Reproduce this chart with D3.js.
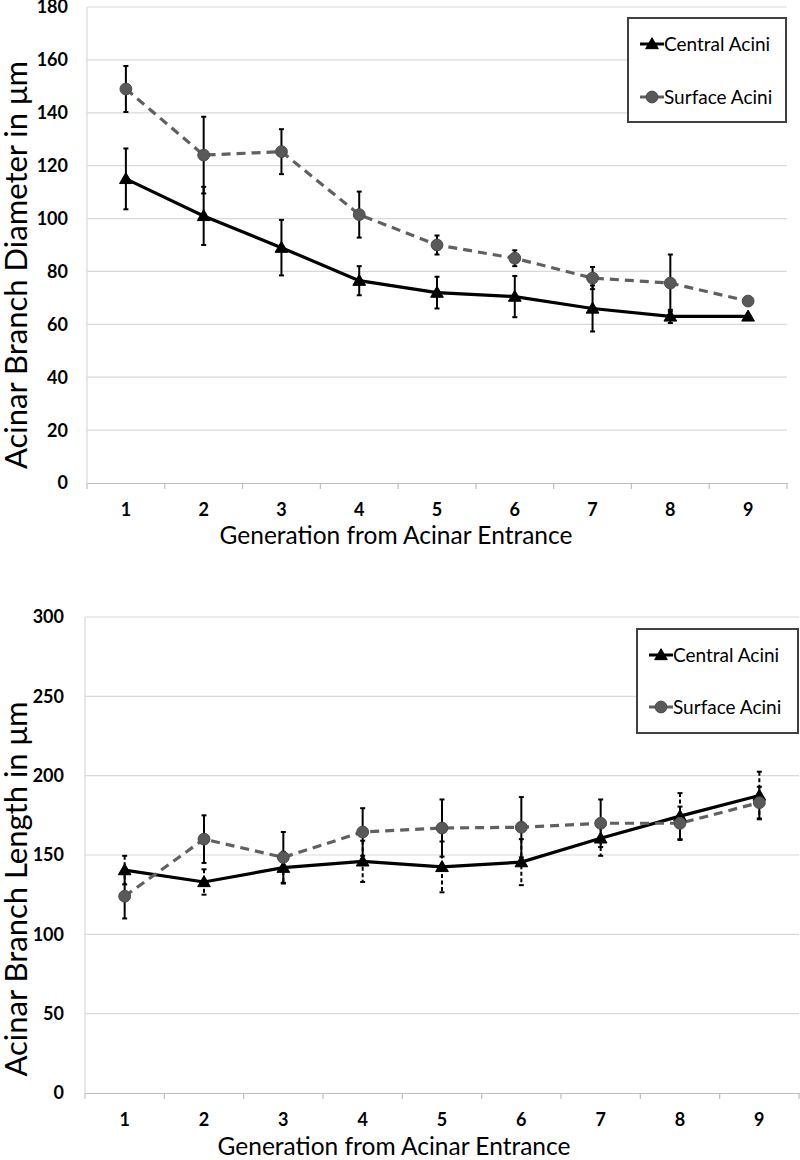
<!DOCTYPE html>
<html><head><meta charset="utf-8">
<script src="https://cdn.jsdelivr.net/npm/d3@7"></script>
<style>body{margin:0;background:#fff}svg{display:block}text{font-family:Lato,"Open Sans",sans-serif}</style>
</head><body>
<svg id="c" width="800" height="1160"></svg>
<script>
const generations = ["1","2","3","4","5","6","7","8","9"];
const seriesNames = ["Central Acini","Surface Acini"];
// Diameter (µm)
const diamCentral = [115,101,89,76.5,72,70.5,66,63,63];
const diamCentralErr = [11.5,11,10.5,5.5,6,7.8,8.7,2.5,0];
const diamSurface = [149,124,125.3,101.5,90,85,77.5,75.6,68.8];
const diamSurfaceErr = [8.7,14.5,8.5,8.7,3.6,3,4.2,10.8,0];
const diamTicks = [0,20,40,60,80,100,120,140,160,180];
// Length (µm)
const lenCentral = [140.5,133,142,146,142.5,145.5,160.5,174.5,187.5];
const lenCentralErr = [9,8,10,13,16,14.5,11,14.5,15];
const lenSurface = [124,160,148.5,164.5,167,167.5,170,170,183];
const lenSurfaceErr = [14,15,16,15,18,19,15,10.5,10];
const lenTicks = [0,50,100,150,200,250,300];

const svg = d3.select("#c");

function drawChart(cfg){
  const g = svg.append("g");
  const x = d3.scaleBand().domain(generations).range([cfg.left,cfg.right]).padding(0);
  const y = d3.scaleLinear().domain([0,cfg.max]).range([cfg.bottom,cfg.top]);
  // gridlines
  g.append("g").selectAll("line").data(cfg.ticks.filter(t=>t>0)).join("line")
    .attr("x1",cfg.left).attr("x2",cfg.right).attr("y1",d=>y(d)).attr("y2",d=>y(d))
    .attr("stroke","#d9d9d9").attr("stroke-width",1.2);
  // left axis line
  g.append("line").attr("x1",cfg.left).attr("x2",cfg.left).attr("y1",cfg.top).attr("y2",cfg.bottom)
    .attr("stroke","#d9d9d9").attr("stroke-width",1.2);
  // bottom axis
  const xa = g.append("g").attr("transform",`translate(0,${cfg.bottom})`)
    .call(d3.axisBottom(x).tickSize(0).tickFormat(""));
  xa.select(".domain").attr("stroke","#bfbfbf").attr("stroke-width",1.2);
  const bounds = generations.map(d=>x(d)).concat([cfg.right]);
  g.append("g").selectAll("line").data(bounds).join("line")
    .attr("x1",d=>d).attr("x2",d=>d).attr("y1",cfg.bottom).attr("y2",cfg.bottom+6)
    .attr("stroke","#bfbfbf").attr("stroke-width",1.2);
  // y tick labels
  g.append("g").selectAll("text").data(cfg.ticks).join("text")
    .attr("x",cfg.left-cfg.ylabOff).attr("y",d=>y(d)).attr("dy","0.36em")
    .attr("text-anchor","end").attr("font-weight","bold").attr("font-size",18).attr("fill","#000")
    .text(d=>d);
  // x tick labels
  g.append("g").selectAll("text").data(generations).join("text")
    .attr("x",d=>x(d)+x.bandwidth()/2).attr("y",cfg.bottom+33)
    .attr("text-anchor","middle").attr("font-weight","bold").attr("font-size",18).attr("fill","#000")
    .text(d=>d);
  // axis titles
  g.append("text").attr("x",(cfg.left+cfg.right)/2 + cfg.xtDx).attr("y",cfg.bottom+cfg.xtDy)
    .attr("text-anchor","middle").attr("font-size",24.5).attr("fill","#000").text("Generation from Acinar Entrance");
  g.append("text").attr("transform",`translate(27,${cfg.ytCy}) rotate(-90)`)
    .attr("text-anchor","middle").attr("font-size",31).attr("fill","#000").text(cfg.ytitle);

  const cx = d=>x(d)+x.bandwidth()/2;
  const series = [
    {vals:cfg.central, errs:cfg.centralErr, color:"#000", dash:null, errDash:cfg.centralErrDash, marker:"tri"},
    {vals:cfg.surface, errs:cfg.surfaceErr, color:"#606060", dash:"9,6", errDash:null, marker:"circ"}
  ];
  series.forEach(s=>{
    const pts = generations.map((gen,i)=>({gen,v:s.vals[i],e:s.errs[i]}));
    const eb = g.append("g");
    pts.filter(p=>p.e>0).forEach(p=>{
      eb.append("line").attr("x1",cx(p.gen)).attr("x2",cx(p.gen))
        .attr("y1",y(p.v+p.e)).attr("y2",y(p.v-p.e))
        .attr("stroke","#000").attr("stroke-width",2)
        .attr("stroke-dasharray",s.errDash);
      [p.v+p.e,p.v-p.e].forEach(v=>{
        eb.append("line").attr("x1",cx(p.gen)-2.5).attr("x2",cx(p.gen)+2.5)
          .attr("y1",y(v)).attr("y2",y(v)).attr("stroke","#000").attr("stroke-width",2);
      });
    });
  });
  series.forEach(s=>{
    const pts = generations.map((gen,i)=>({gen,v:s.vals[i]}));
    g.append("path").datum(pts)
      .attr("d",d3.line().x(d=>cx(d.gen)).y(d=>y(d.v)))
      .attr("fill","none").attr("stroke",s.color).attr("stroke-width",3.2)
      .attr("stroke-dasharray",s.dash);
  });
  series.forEach(s=>{
    const pts = generations.map((gen,i)=>({gen,v:s.vals[i]}));
    const sym = s.marker==="tri" ? d3.symbol(d3.symbolTriangle,70) : d3.symbol(d3.symbolCircle,110);
    g.append("g").selectAll("path").data(pts).join("path")
      .attr("transform",d=>`translate(${cx(d.gen)},${y(d.v)+(s.marker==="tri"?1:0)})`)
      .attr("d",sym)
      .attr("fill",s.marker==="tri"?"#000":"#595959")
      .attr("stroke",s.marker==="tri"?"#000":"#4a4a4a").attr("stroke-width",1);
  });
  // legend
  const L = cfg.legend;
  g.append("rect").attr("x",L.x).attr("y",L.y).attr("width",L.w).attr("height",L.h)
    .attr("fill","#fff").attr("stroke","#404040").attr("stroke-width",2);
  series.forEach((s,i)=>{
    const ly = L.y + L.rows[i];
    const lx0 = L.x+12, lx1 = L.x+36;
    g.append("line").attr("x1",lx0).attr("x2",lx1).attr("y1",ly).attr("y2",ly)
      .attr("stroke",s.color).attr("stroke-width",3);
    const sym = s.marker==="tri" ? d3.symbol(d3.symbolTriangle,70) : d3.symbol(d3.symbolCircle,110);
    g.append("path").attr("transform",`translate(${(lx0+lx1)/2},${ly+(s.marker==="tri"?1:0)})`).attr("d",sym)
      .attr("fill",s.marker==="tri"?"#000":"#595959").attr("stroke",s.marker==="tri"?"#000":"#4a4a4a");
    g.append("text").attr("x",lx1).attr("y",ly).attr("dy","0.36em")
      .attr("font-size",19).attr("fill","#000").text(seriesNames[i]);
  });
}

drawChart({left:87,right:787,top:7,bottom:483,max:180,ticks:diamTicks,ylabOff:19,
  central:diamCentral,centralErr:diamCentralErr,surface:diamSurface,surfaceErr:diamSurfaceErr,
  centralErrDash:null, ytitle:"Acinar Branch Diameter in μm", ytCy:265, xtDx:-41, xtDy:61,
  legend:{x:628,y:18,w:158,h:104,rows:[26,79]}});
drawChart({left:85,right:799,top:617,bottom:1093,max:300,ticks:lenTicks,ylabOff:21,
  central:lenCentral,centralErr:lenCentralErr,surface:lenSurface,surfaceErr:lenSurfaceErr,
  centralErrDash:"4,2.5", ytitle:"Acinar Branch Length in μm", ytCy:889, xtDx:-48, xtDy:62,
  legend:{x:637,y:629,w:161,h:104,rows:[26,78]}});
</script>
</body></html>
